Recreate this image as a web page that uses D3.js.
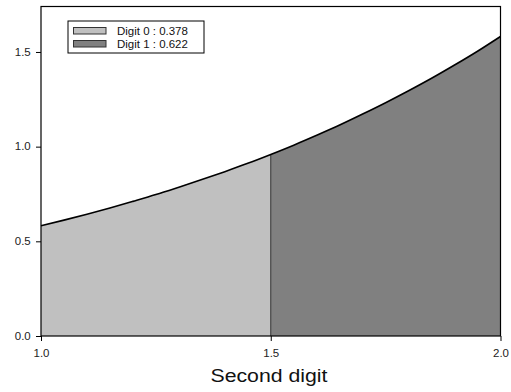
<!DOCTYPE html>
<html>
<head>
<meta charset="utf-8">
<script src="https://cdn.jsdelivr.net/npm/d3@7"></script>
<style>
  html, body { margin: 0; padding: 0; background: #fff; }
  svg { display: block; font-family: "Liberation Sans", Arial, sans-serif; }
</style>
</head>
<body>
<svg id="chart" width="511" height="392"></svg>
<script>
// Density of the second digit over [1, 2], sampled every 0.05
const xs = [1.00, 1.05, 1.10, 1.15, 1.20, 1.25, 1.30, 1.35, 1.40, 1.45, 1.50,
            1.55, 1.60, 1.65, 1.70, 1.75, 1.80, 1.85, 1.90, 1.95, 2.00];
const density = [0.582, 0.612, 0.643, 0.676, 0.711, 0.747, 0.786, 0.826, 0.868, 0.912, 0.959,
                 1.008, 1.060, 1.114, 1.172, 1.232, 1.295, 1.361, 1.431, 1.504, 1.582];
const split = 1.5;
const legendLabels = ["Digit 0 : 0.378", "Digit 1 : 0.622"];
const fills = ["#c0c0c0", "#808080"];
const xTicks = [1.0, 1.5, 2.0];
const yTicks = [0.0, 0.5, 1.0, 1.5];

const svg = d3.select("#chart");
const mLeft = 41, mRight = 500.5, mTop = 6.5, mBottom = 336;
const stretch = 1.15; // wide sans lettering

const x = d3.scaleLinear().domain([1, 2]).range([mLeft, mRight]);
const y = d3.scaleLinear().domain([0, d3.max(density) * 1.1]).range([mBottom, mTop]);

const pts = xs.map((v, i) => ({ x: v, y: density[i] }));
const parts = [pts.filter(d => d.x <= split), pts.filter(d => d.x >= split)];

const area = d3.area().x(d => x(d.x)).y0(y(0)).y1(d => y(d.y)).curve(d3.curveMonotoneX);
const line = d3.line().x(d => x(d.x)).y(d => y(d.y)).curve(d3.curveMonotoneX);

parts.forEach((p, i) => {
  svg.append("path").attr("d", area(p)).attr("fill", fills[i]).attr("stroke", "none");
});

// divider at the split
svg.append("line")
  .attr("x1", x(split)).attr("x2", x(split))
  .attr("y1", y(0)).attr("y2", y(density[xs.indexOf(split)]))
  .attr("stroke", "#333").attr("stroke-width", 1);

svg.append("path").attr("d", line(pts))
  .attr("fill", "none").attr("stroke", "#000").attr("stroke-width", 1.6);

// frame
svg.append("rect")
  .attr("x", mLeft).attr("y", mTop).attr("width", mRight - mLeft).attr("height", mBottom - mTop)
  .attr("fill", "none").attr("stroke", "#000").attr("stroke-width", 1.2);

// axes
const yAxis = d3.axisLeft(y).tickValues(yTicks).tickFormat(d3.format(".1f")).tickSize(5).tickPadding(5);
const xAxis = d3.axisBottom(x).tickValues(xTicks).tickFormat(d3.format(".1f")).tickSize(5).tickPadding(9);

const gy = svg.append("g").attr("transform", `translate(${mLeft},0)`).call(yAxis);
const gx = svg.append("g").attr("transform", `translate(0,${mBottom})`).call(xAxis);
[gy, gx].forEach(g => {
  g.select(".domain").remove();
  g.selectAll(".tick line").attr("stroke", "#000");
  g.selectAll(".tick text").attr("fill", "#222").attr("font-size", 10)
    .attr("font-family", "Liberation Sans, Arial, sans-serif")
    .attr("transform", `scale(${stretch},1)`);
});
gy.selectAll(".tick text").attr("x", -10.3 / stretch);

svg.append("text")
  .attr("transform", `translate(269,381.5) scale(${stretch},1)`)
  .attr("text-anchor", "middle").attr("font-size", 18.5).attr("fill", "#111")
  .text("Second digit");

// legend
const lg = svg.append("g");
lg.append("rect").attr("x", 68).attr("y", 21).attr("width", 136).attr("height", 32)
  .attr("fill", "#fff").attr("stroke", "#000").attr("stroke-width", 1);
legendLabels.forEach((t, i) => {
  const yy = 27.5 + i * 13;
  lg.append("rect").attr("x", 73.5).attr("y", yy).attr("width", 32.5).attr("height", 6.5)
    .attr("fill", fills[i]).attr("stroke", "#333").attr("stroke-width", 1);
  lg.append("text").attr("transform", `translate(117,${yy + 7}) scale(${stretch},1)`)
    .attr("font-size", 10).attr("fill", "#111").text(t);
});
</script>
</body>
</html>
